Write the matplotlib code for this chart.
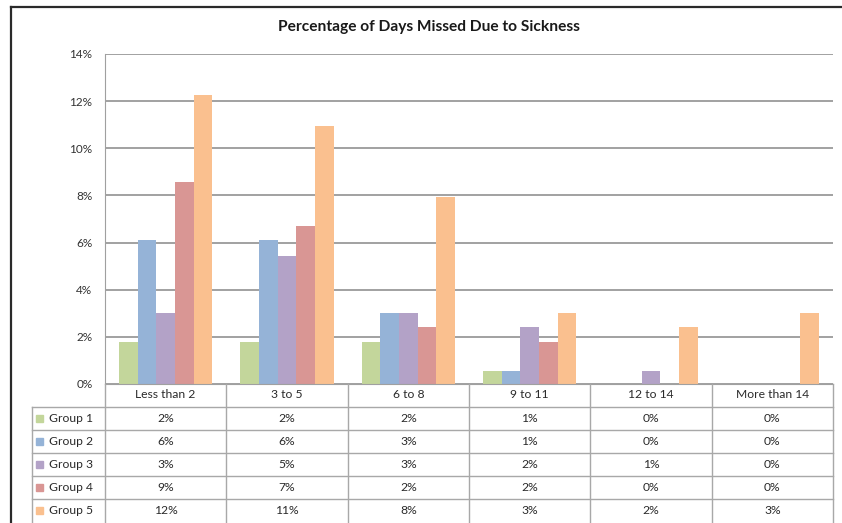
import numpy as np
import matplotlib
matplotlib.use("Agg")
import matplotlib.pyplot as plt
from matplotlib.patches import Rectangle
from matplotlib.transforms import blended_transform_factory

plt.rcParams['font.family'] = ['Lato', 'DejaVu Sans']

categories = ["Less than 2", "3 to 5", "6 to 8", "9 to 11", "12 to 14", "More than 14"]
groups = ["Group 1", "Group 2", "Group 3", "Group 4", "Group 5"]

# percent of days missed, per group, per category
group1 = [1.8, 1.8, 1.8, 0.55, 0.0, 0.0]
group2 = [6.1, 6.1, 3.0, 0.55, 0.0, 0.0]
group3 = [3.0, 5.45, 3.0, 2.4, 0.55, 0.0]
group4 = [8.55, 6.7, 2.4, 1.8, 0.0, 0.0]
group5 = [12.25, 10.95, 7.95, 3.0, 2.4, 3.0]
series = [group1, group2, group3, group4, group5]

colors = ["#c3d69b", "#95b3d7", "#b3a2c7", "#d99694", "#fac08f"]
yticks = [0, 2, 4, 6, 8, 10, 12, 14]

W, H = 842, 523
fig = plt.figure(figsize=(W / 100, H / 100), dpi=100)
fig.patch.set_facecolor("white")

# plot area in pixel terms: x 105..833, y 54..384 (from top)
ax = fig.add_axes([105 / W, (H - 384) / H, 728 / W, 330 / H])
over = fig.add_axes([0, 0, 1, 1], zorder=3)
over.set_xlim(0, W)
over.set_ylim(H, 0)
over.axis("off")
over.patch.set_alpha(0)

x = np.arange(len(categories))
w = 1 / 6.5
for i, vals in enumerate(series):
    ax.bar(x + (i - 2) * w, vals, width=w, color=colors[i], zorder=2)

ax.set_xlim(-0.5, len(categories) - 0.5)
ax.set_ylim(0, 14)
ax.set_yticks(yticks)
ax.set_yticklabels([f"{t}%" for t in yticks], fontsize=8.5, color="#333333")
ax.tick_params(axis="y", length=0, pad=9)
ax.set_xticks([])
ax.yaxis.grid(True, color="#9a9a9a", linewidth=1.3, zorder=0)
ax.set_axisbelow(True)
for s in ["top", "right"]:
    ax.spines[s].set_visible(False)
ax.spines["left"].set_color("#a0a0a0")
ax.spines["bottom"].set_color("#a0a0a0")

fig.text(429 / W, 1 - 27 / H, "Percentage of Days Missed Due to Sickness",
         ha="center", va="center", fontsize=11.2, fontweight="bold", color="#1a1a1a")

# data table under the plot
tr = blended_transform_factory(ax.transData, over.transData)
line_c = "#a8a8a8"
txt_c = "#2a2a2a"
row_tops = [407, 430, 453, 476, 499]
row_h = 23
x_left = -0.5 - 73 / 728 * len(categories)  # label column, 73 px wide
for yt in row_tops:
    over.plot([x_left, len(categories) - 0.5], [yt, yt], transform=tr,
              color=line_c, lw=1, clip_on=False)
for b in np.arange(len(categories) + 1) - 0.5:
    over.plot([b, b], [384, H], transform=tr, color=line_c, lw=1, clip_on=False)
over.plot([x_left, x_left], [407, H], transform=tr, color=line_c, lw=1, clip_on=False)

for j, c in enumerate(categories):
    over.text(j, 395, c, transform=tr, ha="center", va="center",
              fontsize=8.7, color=txt_c)
for i, vals in enumerate(series):
    yc = row_tops[i] + row_h / 2
    for j, v in enumerate(vals):
        over.text(j, yc, f"{v:.0f}%", transform=tr, ha="center", va="center",
                  fontsize=8.7, color=txt_c)
    over.add_patch(Rectangle((36, yc - 3.5), 7, 7, color=colors[i]))
    over.text(49, yc, groups[i], ha="left", va="center", fontsize=8.7, color=txt_c)

# outer chart border
over.plot([11, W], [7, 7], color="#2a2a2a", lw=1.6)
over.plot([11, 11], [7, H], color="#2a2a2a", lw=1.6)

fig.savefig("out.png", dpi=100)
